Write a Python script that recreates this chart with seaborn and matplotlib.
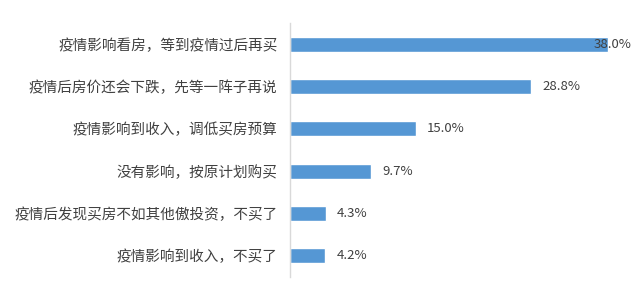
import matplotlib
matplotlib.use("Agg")
import matplotlib.pyplot as plt
import seaborn as sns
import pandas as pd

categories = [
    "疫情影响看房，等到疫情过后再买",
    "疫情后房价还会下跌，先等一阵子再说",
    "疫情影响到收入，调低买房预算",
    "没有影响，按原计划购买",
    "疫情后发现买房不如其他傲投资，不买了",
    "疫情影响到收入，不买了",
]
values = [38.0, 28.8, 15.0, 9.7, 4.3, 4.2]
value_labels = ["38.0%", "28.8%", "15.0%", "9.7%", "4.3%", "4.2%"]

sns.set_theme(style="white")
plt.rcParams['font.family'] = ['Noto Sans CJK SC', 'DejaVu Sans']

df = pd.DataFrame({"cat": categories, "val": values})

W, H = 641, 283
fig = plt.figure(figsize=(W / 100, H / 100), dpi=100)
ax = fig.add_axes([290 / W, 6 / H, (625 - 290) / W, (277 - 23) / H])

sns.barplot(data=df, x="val", y="cat", orient="h", color="#5597d4",
            width=0.35, ax=ax, saturation=1)

ax.set_xlim(0, 40)
ax.set_ylim(5.5, -0.5)
ax.set_xlabel("")
ax.set_ylabel("")
ax.set_xticks([])
for s in ["top", "right", "bottom"]:
    ax.spines[s].set_visible(False)
ax.spines["left"].set_color("#d9d9d9")
ax.spines["left"].set_linewidth(1.0)
ax.tick_params(axis="y", length=0, pad=9, labelsize=10.5, labelcolor="#404040")

fig.canvas.draw()
renderer = fig.canvas.get_renderer()
for i, (v, lab) in enumerate(zip(values, value_labels)):
    bar_end_px = ax.transData.transform((v, i))[0]
    t = ax.annotate(lab, xy=(v, i), xytext=(8, 0), textcoords="offset points",
                    ha="left", va="center", fontsize=9.5, color="#404040")
    bb = t.get_window_extent(renderer)
    if bb.x1 > 634:
        t.remove()
        ax.annotate(lab, xy=(632 / W, i), xycoords=("figure fraction", "data"),
                    ha="right", va="center", fontsize=9.5, color="#404040")

fig.savefig("out.png", dpi=100)
